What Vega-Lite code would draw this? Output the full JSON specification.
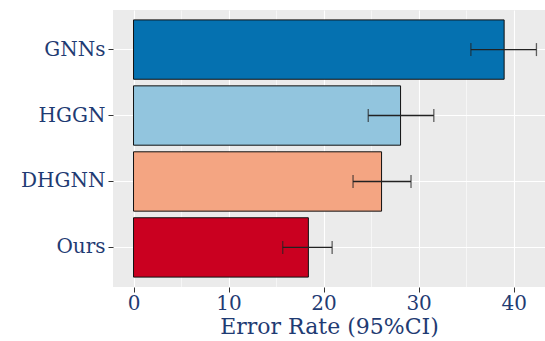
{
  "$schema": "https://vega.github.io/schema/vega-lite/v6.json",
  "width": 432,
  "height": 277,
  "autosize": {"type": "none"},
  "padding": {"left": 113, "top": 10, "right": 0, "bottom": 54},
  "background": "white",
  "config": {
    "view": {"fill": "#EBEBEB", "stroke": null},
    "font": "DejaVu Serif",
    "axis": {
      "domain": false,
      "gridColor": "white",
      "tickColor": "#333333",
      "tickSize": 5,
      "tickWidth": 1,
      "labelColor": "#1f3b73",
      "titleColor": "#1f3b73",
      "labelFont": "DejaVu Serif",
      "titleFont": "DejaVu Serif",
      "labelFontSize": 20,
      "titleFontSize": 22,
      "titleFontWeight": "normal"
    }
  },
  "data": {
    "values": [
      {"model": "GNNs", "rate": 39.0, "lo": 35.5, "hi": 42.4},
      {"model": "HGGN", "rate": 28.1, "lo": 24.7, "hi": 31.6},
      {"model": "DHGNN", "rate": 26.1, "lo": 23.1, "hi": 29.2},
      {"model": "Ours", "rate": 18.4, "lo": 15.7, "hi": 20.9}
    ]
  },
  "encoding": {
    "y": {
      "field": "model",
      "type": "nominal",
      "sort": ["GNNs", "HGGN", "DHGNN", "Ours"],
      "scale": {"paddingInner": 0.1, "paddingOuter": 0.15},
      "axis": {"title": null, "grid": true, "gridWidth": 1.1, "bandPosition": 0.5, "labelPadding": 3}
    }
  },
  "layer": [
    {
      "mark": {"type": "bar", "stroke": "#111111", "strokeWidth": 1},
      "encoding": {
        "x": {
          "field": "rate",
          "type": "quantitative",
          "scale": {"domain": [-2.16, 43.3], "nice": false, "zero": false},
          "axis": {
            "title": "Error Rate (95%CI)",
            "values": [0, 5, 10, 15, 20, 25, 30, 35, 40],
            "labelExpr": "datum.value % 10 === 0 ? datum.label : ''",
            "tickOpacity": {"condition": {"test": "datum.value % 10 === 0", "value": 1}, "value": 0},
            "gridWidth": {"condition": {"test": "datum.value % 10 === 0", "value": 1.1}, "value": 0.55},
            "grid": true,
            "labelPadding": 1,
            "titlePadding": 3
          }
        },
        "fill": {
          "field": "model",
          "type": "nominal",
          "scale": {"domain": ["GNNs", "HGGN", "DHGNN", "Ours"], "range": ["#0571b0", "#92c5de", "#f4a582", "#ca0020"]},
          "legend": null
        }
      }
    },
    {
      "mark": {"type": "rule", "color": "#222222", "strokeWidth": 1.3},
      "encoding": {
        "x": {"field": "lo", "type": "quantitative"},
        "x2": {"field": "hi"}
      }
    },
    {
      "mark": {"type": "tick", "color": "#222222", "thickness": 1.3, "size": 13},
      "encoding": {"x": {"field": "lo", "type": "quantitative"}}
    },
    {
      "mark": {"type": "tick", "color": "#222222", "thickness": 1.3, "size": 13},
      "encoding": {"x": {"field": "hi", "type": "quantitative"}}
    }
  ]
}
